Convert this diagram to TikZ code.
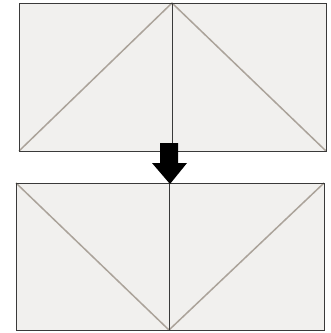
\documentclass[tikz,border=0pt]{standalone}
\definecolor{fabric}{HTML}{F1F0EE}
\definecolor{seam}{HTML}{ABA39A}
\definecolor{edge}{HTML}{3A3A3A}
\tikzset{
  patch/.style={fill=fabric, draw=edge, line width=0.9pt},
  seamline/.style={draw=seam, line width=1.5pt},
  bigarrow/.style={fill=black, draw=none}
}
\begin{document}
\begin{tikzpicture}[x=1pt,y=-1pt]
\useasboundingbox (0,0) rectangle (331,333);
% top row
\coordinate (tA) at (19,3);
\coordinate (tM) at (172,3);
\coordinate (tB) at (326,3);
\coordinate (bA) at (19,151);
\coordinate (bM) at (172,151);
\coordinate (bB) at (326,151);
\path[patch] (tA) rectangle (bM);
\path[patch] (tM) rectangle (bB);
\draw[seamline] (bA) -- (tM);
\draw[seamline] (tM) -- (bB);
\draw[edge, line width=0.9pt] (tA) rectangle (bB);
\draw[edge, line width=0.9pt] (tM) -- (bM);
% bottom row
\coordinate (uA) at (16,183);
\coordinate (uM) at (169,183);
\coordinate (uB) at (324,183);
\coordinate (lA) at (16,330);
\coordinate (lM) at (169,330);
\coordinate (lB) at (324,330);
\path[patch] (uA) rectangle (lM);
\path[patch] (uM) rectangle (lB);
\draw[seamline] (uA) -- (lM);
\draw[seamline] (lM) -- (uB);
\draw[edge, line width=0.9pt] (uA) rectangle (lB);
\draw[edge, line width=0.9pt] (uM) -- (lM);
% arrow
\path[bigarrow] (160,143) -- (178,143) -- (178,163) -- (187,163) -- (170,184) -- (152,163) -- (160,163) -- cycle;
\end{tikzpicture}
\end{document}
